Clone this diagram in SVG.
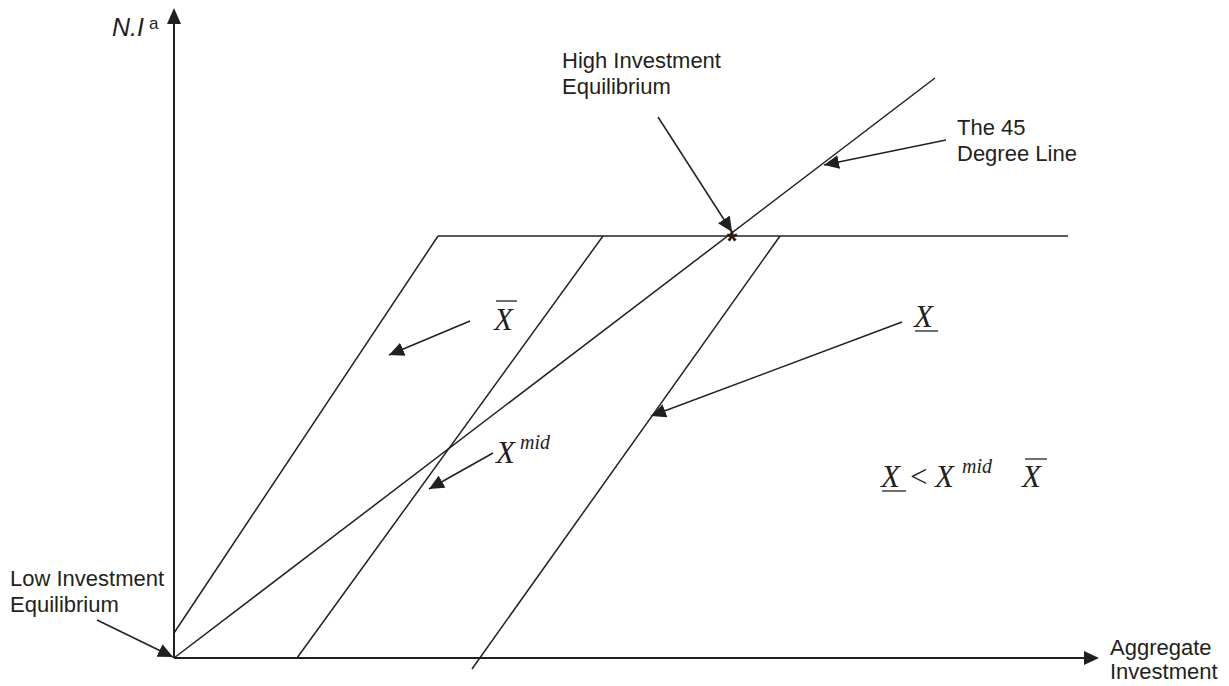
<svg xmlns="http://www.w3.org/2000/svg" width="1229" height="686" viewBox="0 0 1229 686">
<style>
.ln{stroke:#231f20;stroke-width:1.5;fill:none}
.ax{stroke:#231f20;stroke-width:2;fill:none}
.ar{stroke:#231f20;stroke-width:1.5;fill:none;marker-end:url(#ah)}
.lab{font-family:"Liberation Sans",Arial,sans-serif;font-size:22px;fill:#231f20}
.mth{font-family:"Liberation Serif","Times New Roman",serif;font-style:italic;font-size:31px;fill:#231f20}
.sup{font-family:"Liberation Serif","Times New Roman",serif;font-style:italic;font-size:20px;fill:#231f20}
</style>
<defs>
<marker id="ah" markerWidth="16" markerHeight="14" refX="15" refY="7" orient="auto" markerUnits="userSpaceOnUse"><path d="M0,0 L15,7 L0,14 z" fill="#231f20"/></marker>
</defs>
<g id="axes">
<line class="ax" x1="174" y1="658" x2="174" y2="22"/>
<path d="M167,24 L174,8 L181,24 z" fill="#231f20"/>
<line class="ax" x1="174" y1="658" x2="1086" y2="658"/>
<path d="M1084,651 L1099,658 L1084,665 z" fill="#231f20"/>
</g>
<g id="curves">
<line class="ln" x1="174" y1="633" x2="438" y2="236"/>
<line class="ln" x1="438" y1="236" x2="1068" y2="236"/>
<line class="ln" x1="297" y1="658" x2="603" y2="236"/>
<line class="ln" x1="472" y1="669" x2="780" y2="236"/>
<line class="ln" x1="174" y1="658" x2="935" y2="78"/>
</g>
<g id="connectors">
<line class="ar" x1="470" y1="321" x2="389" y2="355"/>
<line class="ar" x1="902" y1="322" x2="651" y2="416"/>
<line class="ar" x1="493" y1="453" x2="429" y2="489"/>
<line class="ar" x1="946" y1="140" x2="824" y2="165"/>
<line class="ar" x1="658" y1="117" x2="732" y2="232"/>
<line class="ar" x1="97" y1="620" x2="173" y2="657"/>
</g>
<g id="star"><text x="732" y="250" text-anchor="middle" style="font-family:'Liberation Sans',Arial,sans-serif;font-size:28px;font-weight:bold;fill:#231f20">*</text></g>
<g id="yaxis-label"><text x="112" y="36" style="font-family:'Liberation Sans',Arial,sans-serif;font-style:italic;font-size:25px;fill:#231f20">N.I</text><text x="149" y="29" class="lab" style="font-size:17px">a</text></g>
<g id="xaxis-label"><text class="lab" x="1110" y="655">Aggregate</text><text class="lab" x="1110" y="679">Investment</text></g>
<g id="high-eq"><text class="lab" x="562" y="68">High Investment</text><text class="lab" x="562" y="94">Equilibrium</text></g>
<g id="line45"><text class="lab" x="957" y="135">The 45</text><text class="lab" x="957" y="161">Degree Line</text></g>
<g id="low-eq"><text class="lab" x="10" y="586">Low Investment</text><text class="lab" x="10" y="612">Equilibrium</text></g>
<g id="xbar"><text class="mth" x="494" y="330">X</text><line class="ln" x1="496" y1="301" x2="517" y2="301" style="stroke-width:1.3"/></g>
<g id="xunder"><text class="mth" x="914" y="327">X</text><line class="ln" x1="915" y1="331" x2="938" y2="331" style="stroke-width:1.3"/></g>
<g id="xmid"><text class="mth" x="496" y="463">X</text><text class="sup" x="520" y="449">mid</text></g>
<g id="ineq"><text class="mth" x="881" y="487">X</text><line class="ln" x1="882" y1="491" x2="906" y2="491" style="stroke-width:1.3"/><text class="mth" x="910" y="487" style="font-style:normal;font-size:31px">&lt;</text><text class="mth" x="935" y="487">X</text><text class="sup" x="962" y="473">mid</text><text class="mth" x="1022" y="487">X</text><line class="ln" x1="1025" y1="459" x2="1047" y2="459" style="stroke-width:1.3"/></g>
</svg>
